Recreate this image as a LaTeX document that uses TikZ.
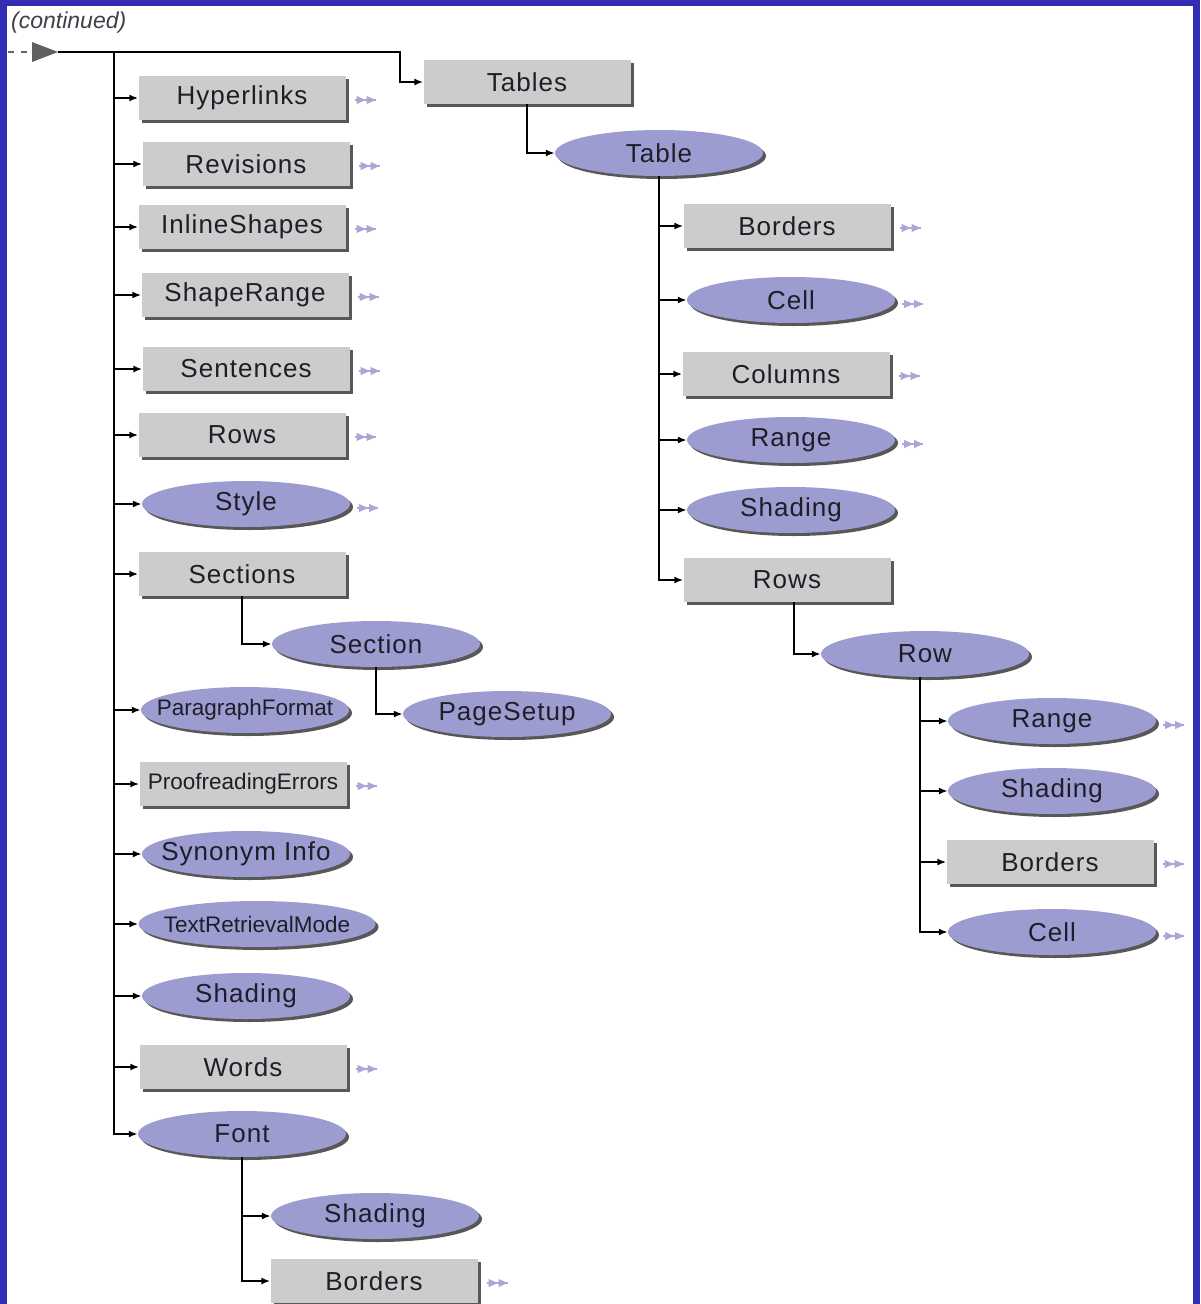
\documentclass[tikz,border=0pt]{standalone}
\usepackage{fontspec}
\setmainfont{Liberation Sans}
\newfontfamily\labfam[LetterSpace=4]{Liberation Sans}
\usetikzlibrary{shapes.geometric,shadows,arrows.meta}

\definecolor{frameblue}{RGB}{50,44,178}
\definecolor{boxgray}{RGB}{204,204,204}
\definecolor{ovalblue}{RGB}{156,156,208}
\definecolor{shadegray}{RGB}{88,88,88}
\definecolor{morecol}{RGB}{168,168,214}
\definecolor{labelink}{RGB}{30,30,40}

% zero-width label so the oval size comes from its minimum size only
\newcommand\lab[1]{\makebox[0pt]{#1}}

\tikzset{
  x=1pt, y=-1pt,
  labeltext/.style={text=labelink, font=\labfam\fontsize{26}{30}\selectfont},
  smalltext/.style={text=labelink, font=\fontsize{22.5}{26}\selectfont},
  objbox/.style={rectangle, fill=boxgray, inner sep=0pt,
    minimum width=207pt, minimum height=44pt, labeltext,
    general shadow={fill=shadegray, shadow xshift=3pt, shadow yshift=-3pt}},
  objoval/.style={ellipse, fill=ovalblue, inner sep=0pt,
    minimum width=208pt, minimum height=46pt, labeltext,
    general shadow={fill=shadegray, shadow xshift=3pt, shadow yshift=-3pt}},
  link/.style={draw=black, line width=1.8pt, -{Latex[length=9pt,width=7pt]}},
  more/.pic={
    \draw[morecol, line width=1.2pt] (0,0) -- (21,0);
    \fill[morecol] (2,-4) -- (11,0) -- (2,4) -- cycle;
    \fill[morecol] (12,-4) -- (21,0) -- (12,4) -- cycle;
  }
}

\begin{document}
\begin{tikzpicture}
% frame and page
\useasboundingbox (0,0) rectangle (1200,1304);
\clip (0,0) rectangle (1200,1304);
\fill[frameblue] (0,0) rectangle (1200,1304);
\fill[white] (7,6) rectangle (1193,1310);

% header
\node[anchor=west, inner sep=0pt, text=labelink!85, font=\itshape\fontsize{23}{26}\selectfont] (cont) at (11,23) {(continued)};
\draw[gray!80!black, line width=1.8pt, dash pattern=on 6pt off 7pt] (8,52) -- (32,52);
\coordinate (start) at (58,52);
\fill[gray!75!black] (32,42) -- (start) -- (32,62) -- cycle;
\coordinate (top) at (114,52);
\coordinate (bend) at (400,52);

% left column
\node[objbox]  (hyper)     at (242,98)   {\lab{Hyperlinks}};
\node[objbox]  (revis)     at (246,164)  {\lab{Revisions}};
\node[objbox]  (inline)    at (242,227)  {\lab{InlineShapes}};
\node[objbox]  (shaperng)  at (245,295)  {\lab{ShapeRange}};
\node[objbox]  (sentences) at (246,369)  {\lab{Sentences}};
\node[objbox]  (rowsA)     at (242,435)  {\lab{Rows}};
\node[objoval] (style)     at (246,504)  {\lab{Style}};
\node[objbox]  (sections)  at (242,574)  {\lab{Sections}};
\node[objoval] (section)   at (376,644)  {\lab{Section}};
\node[objoval] (pagesetup) at (507,714)  {\lab{PageSetup}};
\node[objoval, smalltext] (parfmt) at (245,710) {\lab{ParagraphFormat}};
\node[objbox, smalltext]  (proof)  at (243,784) {\lab{ProofreadingErrors}};
\node[objoval] (synonym)   at (246,854)  {\lab{Synonym Info}};
\node[objoval, smalltext, minimum width=237pt] (textret) at (257,924) {\lab{TextRetrievalMode}};
\node[objoval] (shadingA)  at (246,996)  {\lab{Shading}};
\node[objbox]  (words)     at (243,1067) {\lab{Words}};
\node[objoval] (font)      at (242,1134) {\lab{Font}};
\node[objoval] (fshading)  at (375,1216) {\lab{Shading}};
\node[objbox]  (fborders)  at (374,1281) {\lab{Borders}};

% right column
\node[objbox]  (tables)    at (527,82)   {\lab{Tables}};
\node[objoval] (table)     at (659,153)  {\lab{Table}};
\node[objbox]  (tborders)  at (787,226)  {\lab{Borders}};
\node[objoval] (tcell)     at (791,300)  {\lab{Cell}};
\node[objbox]  (tcolumns)  at (786,374)  {\lab{Columns}};
\node[objoval] (trange)    at (791,440)  {\lab{Range}};
\node[objoval] (tshading)  at (791,510)  {\lab{Shading}};
\node[objbox]  (trows)     at (787,580)  {\lab{Rows}};
\node[objoval] (row)       at (925,654)  {\lab{Row}};
\node[objoval] (rrange)    at (1052,721) {\lab{Range}};
\node[objoval] (rshading)  at (1052,791) {\lab{Shading}};
\node[objbox]  (rborders)  at (1050,862) {\lab{Borders}};
\node[objoval] (rcell)     at (1052,932) {\lab{Cell}};

% main line and left trunk
\draw[link] (start) -- (bend) |- (tables.west);
\draw[link] (top) |- (font.west);
\foreach \n in {hyper,revis,inline,shaperng,sentences,rowsA,style,sections,
                parfmt,proof,synonym,textret,shadingA,words}
  \draw[link] (\n.west -| top) -- (\n.west);

% sub-branches on the left
\draw[link] (sections.south) |- (section.west);
\draw[link] (section.south) |- (pagesetup.west);
\draw[link] (font.south) |- (fborders.west);
\draw[link] (font.south |- fshading.west) -- (fshading.west);

% table branch
\draw[link] (tables.south) |- (table.west);
\draw[link] (table.south) |- (trows.west);
\foreach \n in {tborders,tcell,tcolumns,trange,tshading}
  \draw[link] (\n.west -| table.south) -- (\n.west);
\coordinate (rowsdrop) at ([xshift=7pt]trows.south);
\draw[link] (rowsdrop) |- (row.west);
\coordinate (rowtrunk) at ([xshift=-5pt]row.south);
\draw[link] (rowtrunk) |- (rcell.west);
\foreach \n in {rrange,rshading,rborders}
  \draw[link] (\n.west -| rowtrunk) -- (\n.west);

% continuation markers
\foreach \n in {hyper,revis,inline,shaperng,sentences,rowsA,proof,words,fborders,
                tborders,tcolumns,rborders}
  \path (\n.east) ++(9,2) pic {more};
\foreach \n in {style,tcell,trange,rrange,rcell}
  \path (\n.east) ++(7,4) pic {more};
\end{tikzpicture}
\end{document}
